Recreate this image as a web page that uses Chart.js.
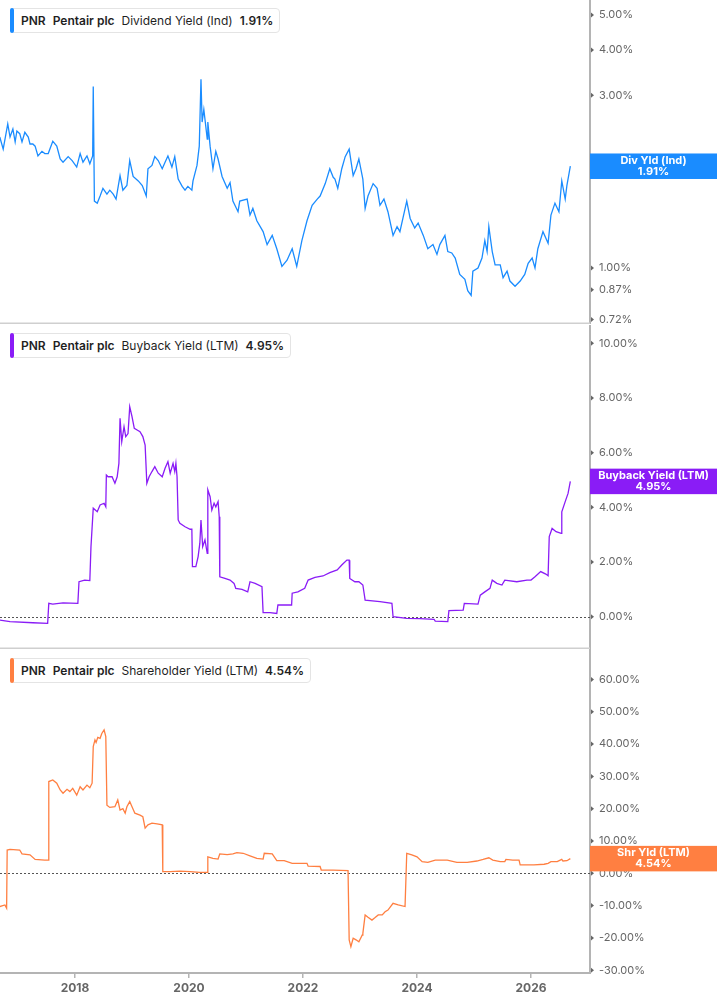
<!DOCTYPE html>
<html>
<head>
<meta charset="utf-8">
<script src="https://cdn.jsdelivr.net/npm/chart.js@4.4.1/dist/chart.umd.min.js"></script>
<style>
  html,body{margin:0;padding:0;background:#fff;}
  body{width:717px;height:1005px;position:relative;overflow:hidden;font-family:Inter, "Noto Sans", sans-serif;}
  canvas{position:absolute;left:0;}
  .leg{position:absolute;left:10px;height:25px;box-sizing:border-box;border:1px solid #e4e4e4;border-radius:4px;background:#fff;
       display:flex;align-items:center;gap:7px;padding:0 6px 0 10px;font-size:12px;color:#1f1f1f;white-space:nowrap;z-index:5;}
  .leg .bar{position:absolute;left:-1px;top:-1px;bottom:-1px;width:4px;border-radius:3px;}
  .leg b{font-weight:600;}
</style>
</head>
<body>
<canvas id="c1" width="717" height="324" style="top:0px"></canvas>
<canvas id="c2" width="717" height="324" style="top:325px"></canvas>
<canvas id="c3" width="717" height="356" style="top:649px"></canvas>

<div class="leg" style="top:8px"><span class="bar" style="background:#1a8cff"></span><b>PNR</b><b>Pentair plc</b><span>Dividend Yield (Ind)</span><b>1.91%</b></div>
<div class="leg" style="top:333px"><span class="bar" style="background:#8a1cf6"></span><b>PNR</b><b>Pentair plc</b><span>Buyback Yield (LTM)</span><b>4.95%</b></div>
<div class="leg" style="top:658px"><span class="bar" style="background:#ff7f41"></span><b>PNR</b><b>Pentair plc</b><span>Shareholder Yield (LTM)</span><b>4.54%</b></div>

<script>
// ---------- DATA (decimal years, values in %) ----------
const yearTicks = [2018, 2020, 2022, 2024, 2026];

const divTicks = [0.72, 0.87, 1, 2, 3, 4, 5];
const buyTicks = [0, 2, 4, 6, 8, 10];
const shrTicks = [-30, -20, -10, 0, 10, 20, 30, 40, 50, 60];

const divDates = [2016.68,2016.74,2016.82,2016.86,2016.91,2016.95,2016.98,2017.03,2017.07,2017.12,2017.18,2017.21,2017.26,2017.30,2017.35,2017.42,2017.47,2017.53,2017.61,2017.68,2017.74,2017.79,2017.88,2017.95,2018.03,2018.09,2018.14,2018.21,2018.26,2018.31,2018.32,2018.34,2018.39,2018.44,2018.49,2018.56,2018.61,2018.67,2018.72,2018.79,2018.84,2018.91,2018.96,2019.02,2019.11,2019.18,2019.25,2019.28,2019.35,2019.40,2019.46,2019.53,2019.58,2019.63,2019.70,2019.75,2019.81,2019.88,2019.93,2019.98,2020.05,2020.07,2020.14,2020.18,2020.21,2020.23,2020.26,2020.32,2020.33,2020.37,2020.42,2020.47,2020.51,2020.58,2020.67,2020.72,2020.77,2020.86,2020.89,2021.02,2021.07,2021.12,2021.19,2021.30,2021.37,2021.46,2021.54,2021.63,2021.72,2021.81,2021.89,2021.98,2022.07,2022.16,2022.25,2022.30,2022.39,2022.47,2022.53,2022.56,2022.61,2022.68,2022.74,2022.81,2022.88,2022.93,2022.98,2023.05,2023.09,2023.14,2023.23,2023.30,2023.35,2023.42,2023.49,2023.58,2023.65,2023.70,2023.82,2023.88,2023.96,2024.02,2024.11,2024.19,2024.28,2024.35,2024.40,2024.49,2024.54,2024.61,2024.67,2024.75,2024.84,2024.89,2024.95,2024.98,2025.07,2025.14,2025.19,2025.23,2025.26,2025.32,2025.37,2025.46,2025.51,2025.58,2025.63,2025.72,2025.81,2025.89,2025.95,2026.02,2026.07,2026.12,2026.21,2026.30,2026.35,2026.42,2026.49,2026.54,2026.60,2026.63,2026.69];
const divValues = [2.30,2.13,2.50,2.30,2.42,2.23,2.39,2.35,2.23,2.37,2.30,2.20,2.20,2.17,2.04,2.10,2.07,2.07,2.24,2.17,2.00,1.96,2.03,1.98,1.90,2.07,1.96,2.04,1.94,2.04,3.17,1.53,1.51,1.58,1.66,1.60,1.64,1.60,1.55,1.80,1.64,1.69,1.98,1.79,1.74,1.69,1.58,1.88,1.92,2.03,1.98,1.88,1.96,2.04,1.90,2.03,1.76,1.68,1.64,1.68,1.64,1.74,1.92,2.17,3.32,2.53,2.74,2.27,2.53,2.17,1.88,2.10,2.00,1.79,1.66,1.72,1.53,1.43,1.53,1.55,1.40,1.46,1.35,1.26,1.16,1.23,1.13,1.01,1.05,1.13,1.01,1.19,1.35,1.49,1.55,1.58,1.71,1.88,1.78,1.76,1.66,1.88,2.03,2.13,1.80,1.88,2.00,1.76,1.46,1.58,1.71,1.66,1.49,1.55,1.43,1.23,1.30,1.26,1.53,1.37,1.29,1.33,1.23,1.13,1.16,1.09,1.16,1.23,1.11,1.10,1.065,0.96,0.93,0.865,0.84,0.98,1.00,1.065,1.19,1.11,1.30,1.11,1.02,1.02,0.94,0.98,0.92,0.89,0.92,0.96,1.03,1.065,1.00,1.13,1.26,1.17,1.40,1.51,1.43,1.74,1.55,1.69,1.91];

const buyDates = [2016.68,2016.86,2017.26,2017.52,2017.54,2017.61,2017.79,2018.05,2018.07,2018.17,2018.26,2018.28,2018.32,2018.39,2018.44,2018.51,2018.54,2018.55,2018.58,2018.65,2018.70,2018.74,2018.77,2018.79,2018.82,2018.86,2018.89,2018.93,2018.96,2019.00,2019.04,2019.09,2019.14,2019.19,2019.23,2019.26,2019.30,2019.35,2019.40,2019.46,2019.53,2019.58,2019.63,2019.67,2019.72,2019.75,2019.77,2019.79,2019.81,2019.84,2019.93,2020.02,2020.05,2020.06,2020.12,2020.16,2020.19,2020.21,2020.24,2020.28,2020.32,2020.33,2020.37,2020.40,2020.44,2020.47,2020.51,2020.53,2020.54,2020.63,2020.72,2020.79,2020.82,2020.93,2021.03,2021.07,2021.16,2021.28,2021.30,2021.42,2021.54,2021.56,2021.68,2021.80,2021.81,2021.91,2022.03,2022.09,2022.21,2022.35,2022.47,2022.60,2022.68,2022.77,2022.81,2022.82,2022.91,2022.98,2023.05,2023.09,2023.35,2023.56,2023.58,2023.82,2024.05,2024.30,2024.32,2024.54,2024.56,2024.81,2024.83,2025.07,2025.11,2025.19,2025.28,2025.32,2025.40,2025.49,2025.54,2025.75,2025.93,2026.00,2026.07,2026.17,2026.26,2026.30,2026.32,2026.37,2026.44,2026.53,2026.54,2026.60,2026.65,2026.69];
const buyValues = [-0.12,-0.18,-0.22,-0.24,0.49,0.46,0.51,0.49,1.28,1.34,1.32,2.56,3.97,3.84,4.09,4.15,4.02,5.18,5.12,5.12,4.88,5.12,5.61,7.26,6.40,6.95,6.59,6.70,7.68,7.32,6.89,6.83,6.77,6.59,6.28,4.88,5.12,5.31,5.49,5.25,5.12,5.43,5.67,5.25,5.61,5.31,5.61,5.12,3.54,3.42,3.29,3.20,3.20,1.83,1.83,2.20,2.69,3.54,2.56,2.81,2.32,4.64,4.39,3.90,4.15,4.02,4.21,3.66,1.46,1.40,1.34,1.22,1.04,1.00,0.91,1.28,1.22,1.10,0.15,0.15,0.12,0.43,0.43,0.43,0.86,0.91,1.04,1.34,1.44,1.49,1.61,1.71,1.89,2.07,2.07,1.40,1.28,1.28,1.16,0.61,0.55,0.49,0.00,-0.06,-0.07,-0.10,-0.16,-0.18,0.22,0.24,0.49,0.46,0.79,0.91,1.04,1.34,1.22,1.16,1.34,1.28,1.34,1.34,1.46,1.65,1.56,1.50,2.93,3.23,3.11,3.05,3.84,4.21,4.51,4.95];

const shrDates = [2016.68,2016.77,2016.80,2016.81,2016.86,2017.03,2017.07,2017.21,2017.30,2017.47,2017.53,2017.54,2017.61,2017.68,2017.74,2017.79,2017.86,2017.91,2017.96,2018.03,2018.09,2018.14,2018.21,2018.26,2018.30,2018.32,2018.35,2018.37,2018.40,2018.44,2018.47,2018.51,2018.54,2018.56,2018.61,2018.70,2018.75,2018.79,2018.84,2018.88,2018.91,2018.96,2019.00,2019.05,2019.14,2019.19,2019.23,2019.28,2019.35,2019.44,2019.53,2019.54,2019.67,2019.84,2020.02,2020.19,2020.32,2020.33,2020.42,2020.51,2020.54,2020.67,2020.77,2020.84,2020.95,2021.07,2021.19,2021.30,2021.32,2021.46,2021.54,2021.67,2021.81,2022.07,2022.09,2022.30,2022.32,2022.53,2022.79,2022.81,2022.84,2022.88,2022.93,2022.98,2023.04,2023.05,2023.09,2023.14,2023.21,2023.26,2023.32,2023.39,2023.44,2023.49,2023.58,2023.67,2023.79,2023.82,2023.91,2024.00,2024.09,2024.19,2024.32,2024.53,2024.70,2024.88,2025.05,2025.16,2025.26,2025.33,2025.46,2025.54,2025.56,2025.68,2025.79,2025.81,2026.05,2026.23,2026.30,2026.35,2026.46,2026.54,2026.56,2026.63,2026.69];
const shrValues = [-10.3,-9.8,-10.8,7.2,7.4,7.2,6.0,5.7,4.3,4.1,4.1,28.4,28.9,27.9,25.8,24.8,26.0,25.3,26.3,24.2,26.8,25.8,27.3,26.5,27.9,39.2,41.3,40.5,42.1,41.8,43.3,44.4,42.3,21.1,20.4,20.6,22.7,19.6,20.0,18.6,20.6,22.2,20.6,18.6,18.0,17.5,14.0,15.0,15.5,15.3,15.0,0.5,0.5,0.7,0.5,0.3,0.3,5.1,4.6,4.4,6.0,5.8,6.0,6.4,6.2,5.4,4.6,4.4,6.2,6.0,3.9,3.9,3.1,3.1,2.2,2.1,1.0,1.0,0.8,-20.6,-22.7,-20.1,-20.6,-21.2,-19.1,-18.6,-12.9,-13.6,-14.5,-13.8,-12.9,-12.9,-11.9,-11.4,-9.3,-9.8,-10.3,6.2,5.7,5.1,3.6,3.4,4.1,4.1,3.4,3.4,3.8,4.3,4.8,4.1,3.6,3.6,4.3,4.1,4.1,2.6,2.6,2.8,3.1,3.6,3.6,4.3,3.8,3.9,4.54];

// ---------- rendering ----------
Chart.defaults.font.family = 'Inter, "Noto Sans", sans-serif';
const X_MIN = 2016.684, X_MAX = 2027.035;
const AXIS_COLOR = '#b4b4b4';

const panelPlugin = {
  id: 'panel',
  beforeDatasetsDraw(chart, args, opts) {
    const {ctx, chartArea: a} = chart;
    const y = chart.scales.y;
    if (opts.zeroLine) {
      const py = Math.round(y.getPixelForValue(0)) + 0.5;
      ctx.save();
      ctx.strokeStyle = '#555'; ctx.lineWidth = 1; ctx.setLineDash([2, 2]);
      ctx.beginPath(); ctx.moveTo(a.left, py); ctx.lineTo(a.right, py); ctx.stroke();
      ctx.restore();
    }
  },
  afterDraw(chart, args, opts) {
    const {ctx, chartArea: a} = chart;
    const y = chart.scales.y;
    ctx.save();
    if (opts.bottomLine) {
      ctx.strokeStyle = '#cfcfcf'; ctx.lineWidth = 1.5;
      ctx.beginPath(); ctx.moveTo(a.left, a.bottom - 0.75); ctx.lineTo(a.right, a.bottom - 0.75); ctx.stroke();
    }
    // tick markers
    ctx.fillStyle = '#666';
    y.ticks.forEach(t => {
      const py = y.getPixelForValue(t.value);
      ctx.beginPath();
      ctx.moveTo(a.right + 1, py - 2.5);
      ctx.lineTo(a.right + 4, py);
      ctx.lineTo(a.right + 1, py + 2.5);
      ctx.closePath(); ctx.fill();
    });
    // value badge
    const ds = chart.data.datasets[0].data;
    const last = ds[ds.length - 1].y;
    const cy = y.getPixelForValue(last);
    const h = 25.5;
    ctx.fillStyle = opts.badgeColor;
    ctx.fillRect(a.right, cy - h / 2, chart.width - a.right, h);
    ctx.fillStyle = '#fff';
    ctx.font = '700 11px Inter, "Noto Sans", sans-serif';
    ctx.textAlign = 'center'; ctx.textBaseline = 'middle';
    const cx = (a.right + chart.width) / 2;
    ctx.fillText(opts.badge[0], cx, cy - 5.5);
    ctx.fillText(opts.badge[1], cx, cy + 5.5);
    ctx.restore();
  }
};

function yAxis(type, min, max, ticks) {
  return {
    type, position: 'right', min, max,
    grid: {display: false, drawTicks: false},
    border: {display: true, color: AXIS_COLOR, width: 2},
    afterBuildTicks: s => { s.ticks = ticks.map(v => ({value: v})); },
    afterFit: s => { s.width = 127; s.paddingTop = 0; s.paddingBottom = 0; },
    ticks: {
      padding: 9, color: '#666', font: {size: 11},
      callback: v => Number(v).toFixed(2) + '%'
    }
  };
}

function xAxis(show) {
  return {
    type: 'linear', min: X_MIN, max: X_MAX, display: show,
    grid: {display: true, drawOnChartArea: false, drawTicks: true, tickLength: 5, color: AXIS_COLOR, lineWidth: 1.5},
    border: {display: true, color: AXIS_COLOR, width: 2},
    afterBuildTicks: s => { s.ticks = yearTicks.map(v => ({value: v})); },
    afterFit: s => { s.height = show ? 32 : 0; s.paddingLeft = 0; s.paddingRight = 0; },
    ticks: {padding: 3, color: '#666', font: {size: 12, weight: '700'}, callback: v => String(v), maxRotation: 0}
  };
}

function makeChart(id, dates, values, color, yScale, showX, pluginOpts) {
  return new Chart(document.getElementById(id), {
    type: 'line',
    data: {
      datasets: [{
        data: dates.map((d, i) => ({x: d, y: values[i]})),
        borderColor: color, borderWidth: 1.3, pointRadius: 0, tension: 0, fill: false
      }]
    },
    options: {
      responsive: false, animation: false,
      layout: {padding: 0},
      plugins: {legend: {display: false}, tooltip: {enabled: false}, panel: pluginOpts},
      scales: {x: xAxis(showX), y: yScale}
    },
    plugins: [panelPlugin]
  });
}

makeChart('c1', divDates, divValues, '#1a8cff',
  yAxis('logarithmic', 0.711, 5.50, divTicks), false,
  {bottomLine: true, zeroLine: false, badgeColor: '#1a8cff', badge: ['Div Yld (Ind)', '1.91%']});

makeChart('c2', buyDates, buyValues, '#8a1cf6',
  yAxis('linear', -1.18, 10.67, buyTicks), false,
  {bottomLine: true, zeroLine: true, badgeColor: '#8a1cf6', badge: ['Buyback Yield (LTM)', '4.95%']});

makeChart('c3', shrDates, shrValues, '#ff7f41',
  yAxis('linear', -30.87, 69.44, shrTicks), true,
  {bottomLine: false, zeroLine: true, badgeColor: '#ff7f41', badge: ['Shr Yld (LTM)', '4.54%']});
</script>
</body>
</html>
